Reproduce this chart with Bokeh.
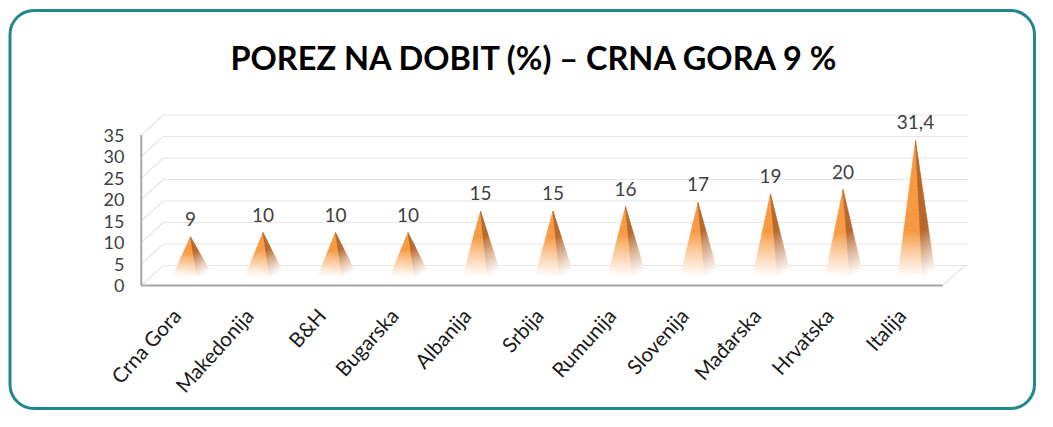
import numpy as np
from bokeh.plotting import figure
from bokeh.models import Range1d, ColumnDataSource, BoxAnnotation
from bokeh.core.properties import value
from bokeh.embed import file_html
from bokeh.resources import INLINE

# ---------------- data ----------------
countries = ["Crna Gora", "Makedonija", "B&H", "Bugarska", "Albanija", "Srbija",
             "Rumunija", "Slovenija", "Mađarska", "Hrvatska", "Italija"]
rates = [9, 10, 10, 10, 15, 15, 16, 17, 19, 20, 31.4]
rate_labels = ["9", "10", "10", "10", "15", "15", "16", "17", "19", "20", "31,4"]
y_ticks = [0, 5, 10, 15, 20, 25, 30, 35]
y_tick_labels = ["0", "5", "10", "15", "20", "25", "30", "35"]
title_text = "POREZ NA DOBIT (%) – CRNA GORA 9 %"

# ---------------- layout (pixels) ----------------
W, H = 1037, 411
X_PX = 72.5      # pixels per category
Y_PX = 4.3       # pixels per percentage point
X0_PX = 190      # canvas x of first category centre
ZERO_PX = 285    # canvas y of value 0 (front plane)

def px(d):
    return d / X_PX

def py(d):
    return d / Y_PX

def cx(canvas_x):
    return (canvas_x - X0_PX) / X_PX

def cy(canvas_y):
    return (ZERO_PX - canvas_y) / Y_PX

FONT = "Lato"
n = len(countries)
xs_cat = np.arange(n, dtype=float)

p = figure(width=W, height=H, output_backend="svg", toolbar_location=None,
           x_range=Range1d(cx(0), cx(W)), y_range=Range1d(cy(H), cy(0)),
           min_border=0, min_border_left=0, min_border_right=0,
           min_border_top=0, min_border_bottom=0)
p.axis.visible = False
p.grid.visible = False
p.outline_line_color = None
p.background_fill_color = "white"
p.border_fill_color = "white"

# rounded teal frame
p.add_layout(BoxAnnotation(left=cx(9.5), right=cx(1034), top=cy(10), bottom=cy(408),
                           fill_color=None, fill_alpha=0, line_color="#1f878d",
                           line_alpha=1.0, line_width=3, border_radius=24,
                           level="underlay"))

# ---------------- 3D wall grid ----------------
ax_l = -0.5 - px(13)
ax_r = (n - 0.5) - px(9)
depth_x = px(22)
depth_y = py(20)
top_v = y_ticks[-1]

gx, gy = [], []
for v in y_ticks:
    gx.append([ax_l + depth_x, ax_r + depth_x + px(4)])
    gy.append([v + depth_y, v + depth_y])
    gx.append([ax_l, ax_l + depth_x])
    gy.append([v, v + depth_y])
gx.append([ax_r, ax_r + depth_x])
gy.append([0, depth_y])
p.multi_line(gx, gy, line_color="#e6e6e6", line_width=1.2)

# ---------------- pyramids with gradient ----------------
LIGHT = np.array([246, 152, 64], dtype=float)
DARK = np.array([182, 102, 42], dtype=float)
WHITE = np.array([255, 255, 255], dtype=float)
N_SLICES = 40

pxs, pys, pcols = [], [], []
base_y = py(10)
for i, v in enumerate(rates):
    tip = (xs_cat[i], v + base_y)
    left = (xs_cat[i] - px(17.5), base_y)
    front = (xs_cat[i] + px(7), base_y - py(2))
    right = (xs_cat[i] + px(19), base_y + py(5))
    hpx = v * Y_PX
    tf = min(0.6, 44.0 / hpx)
    for (A, B, col) in [(left, front, LIGHT), (front, right, DARK)]:
        for k in range(N_SLICES):
            t0 = k / N_SLICES
            t1 = (k + 1) / N_SLICES
            tm = 0.5 * (t0 + t1)
            w = np.clip((tf - tm) / tf, 0, 1) ** 0.85
            c = col * (1 - w) + WHITE * w
            hexc = "#%02x%02x%02x" % tuple(int(round(q)) for q in c)
            a0 = (A[0] + (tip[0] - A[0]) * t0, A[1] + (tip[1] - A[1]) * t0)
            b0 = (B[0] + (tip[0] - B[0]) * t0, B[1] + (tip[1] - B[1]) * t0)
            a1 = (A[0] + (tip[0] - A[0]) * t1, A[1] + (tip[1] - A[1]) * t1)
            b1 = (B[0] + (tip[0] - B[0]) * t1, B[1] + (tip[1] - B[1]) * t1)
            pxs.append([a0[0], b0[0], b1[0], a1[0]])
            pys.append([a0[1], b0[1], b1[1], a1[1]])
            pcols.append(hexc)

p.patches(xs="xs", ys="ys", fill_color="c", line_color="c", line_width=0.6,
          source=ColumnDataSource(dict(xs=pxs, ys=pys, c=pcols)))

# ---------------- axes lines ----------------
p.line([ax_l, ax_l], [0, top_v], line_color="#a6a6a6", line_width=2)
p.line([ax_l, ax_r], [0, 0], line_color="#a6a6a6", line_width=2)

# y tick labels
p.text(x=[cx(124)] * len(y_ticks), y=y_ticks, text=y_tick_labels,
       text_align="right", text_baseline="middle", text_font=value(FONT),
       text_font_size="18px", text_color="#404040")

# value labels
p.text(x=xs_cat, y=[v + base_y + py(18) for v in rates], text=rate_labels,
       text_align="center", text_baseline="middle", text_font=value(FONT),
       text_font_size="19px", text_color="#404040")

# category labels (rotated)
p.text(x=xs_cat - px(14), y=[-py(26)] * n, text=countries, angle=np.deg2rad(48),
       text_align="right", text_baseline="middle", text_font=value(FONT),
       text_font_size="20.5px", text_color="#1a1a1a")

# title
p.text(x=[cx(535)], y=[cy(57)], text=[title_text],
       text_align="center", text_baseline="middle", text_font=value(FONT),
       text_font_style="bold", text_font_size="32.5px", text_color="#000000")

open("out.html", "w").write(file_html(p, INLINE))
